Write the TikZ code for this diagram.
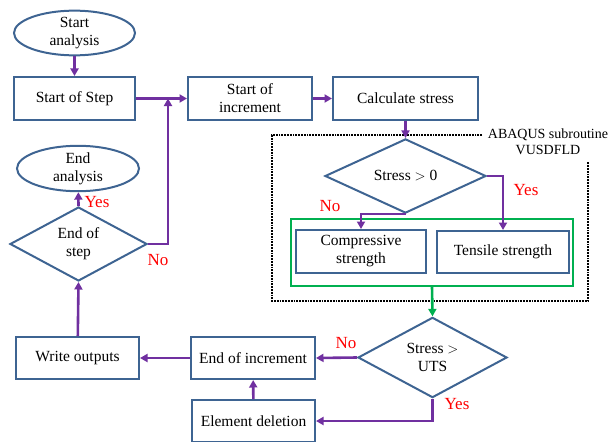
\documentclass[tikz,border=0pt]{standalone}
\usepackage{fontspec}
\setmainfont{Liberation Serif}
\usetikzlibrary{shapes.geometric,arrows.meta}
\definecolor{boxblue}{HTML}{3E6492}
\definecolor{arrpurple}{HTML}{7030A0}
\definecolor{arrgreen}{HTML}{00B050}
\definecolor{lblred}{HTML}{FF0000}
\tikzset{
  base/.style={draw=boxblue, line width=2pt, inner sep=0pt, align=center, font=\fontsize{15.5}{18}\selectfont},
  proc/.style={base, rectangle},
  term/.style={base, ellipse},
  dec/.style={base, diamond},
  arr/.style={draw=arrpurple, line width=2.6pt, -{Triangle[length=7.5pt,width=8pt]}},
  garr/.style={draw=arrgreen, line width=2.6pt, -{Triangle[length=7.5pt,width=8pt]}},
  yn/.style={text=lblred, font=\fontsize{17}{18}\selectfont, inner sep=0pt},
}
\begin{document}
\begin{tikzpicture}[x=1pt,y=-1pt]
\useasboundingbox (0,0) rectangle (609,441);
% dotted subroutine frame
\coordinate (f1) at (482,135);
\coordinate (f2) at (272,135);
\coordinate (f3) at (272,301);
\coordinate (f4) at (588,301);
\coordinate (f5) at (588,162);
\draw[line width=1.8pt, densely dotted] (f1) -- (f2) -- (f3) -- (f4) -- (f5);
\node[font=\fontsize{14}{15.5}\selectfont, align=center, inner sep=0pt] (abq) at (548,141.5) {ABAQUS subroutine\\VUSDFLD};
% green group
\node[draw=arrgreen, line width=2pt, minimum width=282, minimum height=67, inner sep=0pt] (gbox) at (432,252.5) {};
% nodes
\node[term, minimum width=121, minimum height=40] (sa) at (74.5,33) {Start\\analysis};
\node[proc, minimum width=121, minimum height=43] (sos) at (74.5,98.5) {Start of Step};
\node[proc, minimum width=124, minimum height=43] (soi) at (250,98.5) {Start of\\increment};
\node[proc, minimum width=145, minimum height=43] (cs) at (405.5,98.5) {Calculate stress};
\node[dec, minimum width=161, minimum height=54] (d0) at (405.5,176) {Stress $>$ 0};
\node[proc, minimum width=130, minimum height=43] (cmp) at (361,251.5) {Compressive\\strength};
\node[proc, minimum width=132, minimum height=42] (ten) at (503,252) {Tensile strength};
\node[dec, minimum width=149, minimum height=59] (duts) at (432.5,357.5) {Stress $>$\\UTS};
\node[proc, minimum width=124, minimum height=42] (eoi) at (253,358) {End of increment};
\node[proc, minimum width=123, minimum height=42] (wo) at (77.5,358) {Write outputs};
\node[proc, minimum width=123, minimum height=42] (ed) at (253.5,421) {Element deletion};
\node[dec, minimum width=137, minimum height=58] (eos) at (78.5,244) {End of\\step};
\node[term, minimum width=122, minimum height=33] (ea) at (78,168.5) {End\\analysis};
\coordinate (j) at (168,98.5);
% connectors
\draw[arr] (sa) -- (sos);
\draw[arr] (sos) -- (soi);
\draw[arr] (eos.east) -| (j);
\draw[arr] (soi) -- (cs);
\draw[arr] (cs) -- (d0.north);
\draw[arr] (d0.south) -| (cmp.north);
\draw[arr] (d0.east) -| (ten.north);
\draw[garr] (gbox.south) -- (duts.north);
\draw[arr] (duts.west) -- (eoi.east);
\draw[arr] (duts.south) |- (ed.east);
\draw[arr] (ed) -- (eoi);
\draw[arr] (eoi) -- (wo);
\draw[arr] (wo) -- (eos.south);
\draw[arr] (eos.north) -- (ea);
% labels
\node[yn] (l1) at (97,202) {Yes};
\node[yn] (l2) at (158,260) {No};
\node[yn] (l3) at (330,206) {No};
\node[yn] (l4) at (526,190) {Yes};
\node[yn] (l5) at (346,343) {No};
\node[yn] (l6) at (457,404) {Yes};
\end{tikzpicture}
\end{document}
